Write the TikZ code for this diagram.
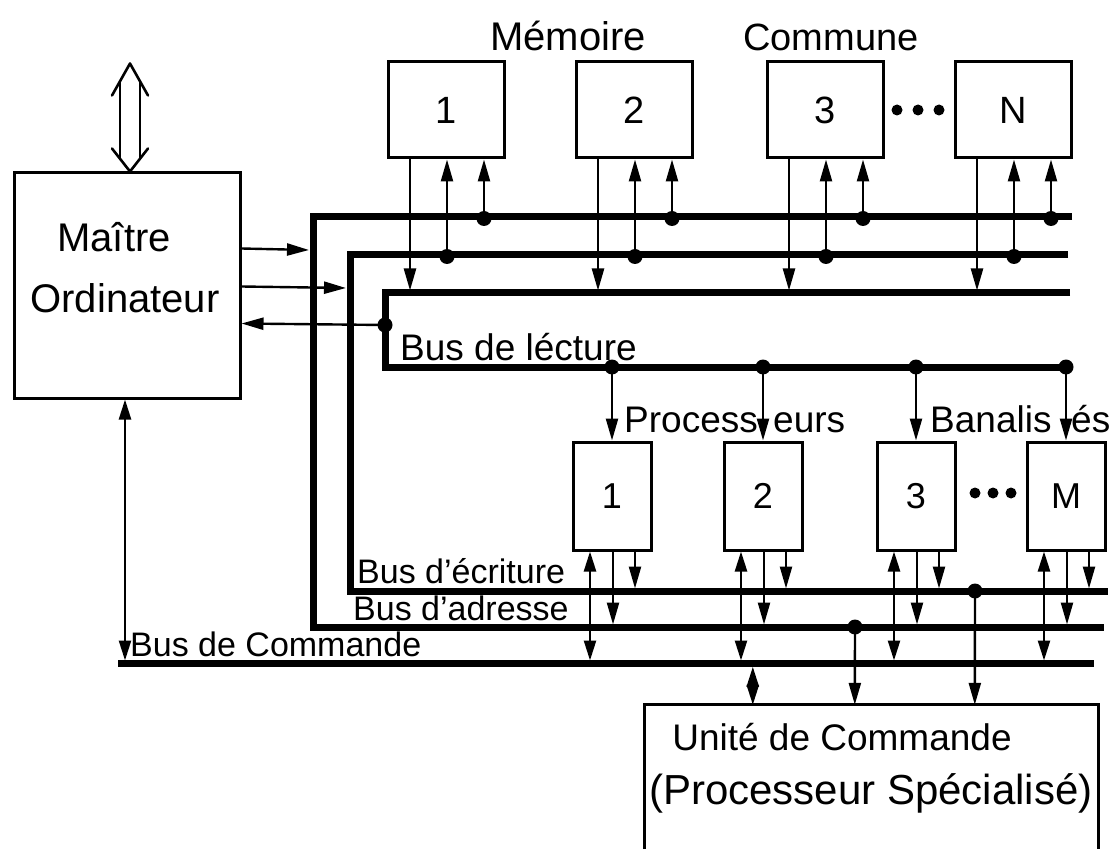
\documentclass[tikz,border=0pt]{standalone}
\usepackage{fontspec}
\setmainfont{Liberation Sans}
\usetikzlibrary{arrows.meta,calc}
\begin{document}
\begin{tikzpicture}[x=1pt,y=-1pt,
  box/.style={draw, line width=3pt, inner sep=0pt},
  bus/.style={line width=7pt, line join=miter},
  wire/.style={line width=2.4pt},
  tip/.style={-{Triangle[length=22pt,width=12pt]}},
  tips/.style={{Triangle[length=20pt,width=12pt]}-{Triangle[length=20pt,width=12pt]}},
  jn/.style={circle, fill, inner sep=0pt, minimum size=15pt},
  lbl/.style={inner sep=0pt, font=\fontsize{36}{40}\selectfont},
  big/.style={inner sep=0pt, font=\fontsize{40}{44}\selectfont},
  sml/.style={inner sep=0pt, font=\fontsize{34}{38}\selectfont, anchor=base west}]
\useasboundingbox (0,0) rectangle (1114,850);

% ---------- buses ----------
\draw[bus] (1072,217) -| (313,627) -- (1104,627);
\draw[bus] (1068,255) -| (350,591) -- (1108,591);
\draw[bus] (1070,293) -| (385,367) -- (1067,367);
\draw[bus] (118,663) -- (1094,663);

% ---------- master ----------
\node[box, minimum width=226pt, minimum height=225pt] (master) at (127,285.5) {};
\node[big] (mt1) at (114,237) {Maître};
\node[big] (mt2) at (125,298) {Ordinateur};

\draw[wire,tip] ($(master.north east)+(0,77)$) -- (309,250);
\draw[wire,tip] ($(master.north east)+(0,115)$) -- (346,288);
\draw[wire,tip] (385,325) -- ($(master.north east)+(0,152)$);
\node[jn] (jr) at (385,325) {};
\draw[wire,tips] ($(master.south)+(-2,0)$) -- ($(master.south)+(-2,261)$);

% external double arrow
\coordinate (ext) at ($(master.north)+(3,-108)$);
\draw[line width=2.6pt, line join=round, line cap=round]
  ($(ext)+(-18,32)$) -- (ext) -- ($(ext)+(18,32)$);
\draw[line width=2.6pt] ($(ext)+(-10,18)$) -- ($(master.north)+(-7,-13)$);
\draw[line width=2.6pt] ($(ext)+(10,18)$) -- ($(master.north)+(13,-13)$);
\draw[line width=2.6pt, line join=round, line cap=round]
  ($(master.north)+(-15,-23)$) -- ($(master.north)+(3,0)$) -- ($(master.north)+(21,-23)$);

% ---------- memories ----------
\node[big] (tm) at (568,36) {Mémoire};
\node[inner sep=0pt, font=\fontsize{38}{42}\selectfont] (tc) at (831,37) {Commune};
\foreach \n/\c/\t in {m1/446/1, m2/634/2, m3/825/3, mN/1013/N} {
  \node[box, minimum width=116pt, minimum height=96pt, font=\fontsize{38}{42}\selectfont] (\n) at (\c,110) {\t};
  \draw[wire,tip] ($(\n.south)+(-36,0)$) -- ($(\n.south)+(-36,131)$);
  \draw[wire,tip] ($(\n.south)+(1,97)$) -- ($(\n.south)+(1,0)$);
  \node[jn] at ($(\n.south)+(1,97)$) {};
  \draw[wire,tip] ($(\n.south)+(38,59)$) -- ($(\n.south)+(38,0)$);
  \node[jn] at ($(\n.south)+(38,59)$) {};
}
\foreach \x in {897,918,939} \fill (\x,110) circle[radius=5.5pt];

% ---------- processors ----------
\node[sml, font=\fontsize{37}{40}\selectfont] (tl) at (400,360) {Bus de lécture};
\node[sml, font=\fontsize{37}{40}\selectfont] (tp1) at (624,432) {Process};
\node[sml, font=\fontsize{37}{40}\selectfont] (tp2) at (773,432) {eurs};
\node[sml, font=\fontsize{37}{40}\selectfont] (tb1) at (930,432) {Banalis};
\node[sml, font=\fontsize{37}{40}\selectfont] (tb2) at (1071,432) {és};
\foreach \n/\c/\t in {p1/612/1, p2/763/2, p3/916/3, pM/1066/M} {
  \node[box, minimum width=78pt, minimum height=108pt, font=\fontsize{36}{40}\selectfont] (\n) at (\c,496) {\t};
  \node[jn] at (\c,367) {};
  \draw[wire,tip] (\c,367) -- (\n.north);
  \draw[wire,tips] ($(\n.south)+(-22,0)$) -- ($(\n.south)+(-22,109)$);
  \draw[wire,tip] ($(\n.south)+(1,0)$) -- ($(\n.south)+(1,73)$);
  \draw[wire,tip] ($(\n.south)+(23,0)$) -- ($(\n.south)+(23,37)$);
}
\foreach \x in {975,993,1011} \fill (\x,493) circle[radius=5.5pt];

\node[sml] (te) at (357,583) {Bus d’écriture};
\node[sml] (ta) at (353,620) {Bus d’adresse};
\node[sml] (tcm) at (130,656) {Bus de Commande};

% ---------- control unit ----------
\node[inner sep=0pt, minimum width=453pt, minimum height=144pt] (unit) at (871.5,777) {};
\draw[line width=3pt] (unit.south west) -- (unit.north west) -- (unit.north east) -- (unit.south east);
\node[inner sep=0pt, font=\fontsize{37}{40}\selectfont] (u1) at (842,737) {Unité de Commande};
\node[inner sep=0pt, font=\fontsize{42}{46}\selectfont] (u2) at (871,793) {(Processeur Spécialisé)};

\draw[wire,tips] ($(unit.north west)+(108,-38)$) -- ($(unit.north west)+(108,0)$);
\node[jn] (ja) at (855,627) {};
\draw[wire,tip] (ja.center) -- ($(unit.north west)+(210,0)$);
\node[jn] (je) at (975,591) {};
\draw[wire,tip] (je.center) -- ($(unit.north west)+(330,0)$);
\end{tikzpicture}
\end{document}
